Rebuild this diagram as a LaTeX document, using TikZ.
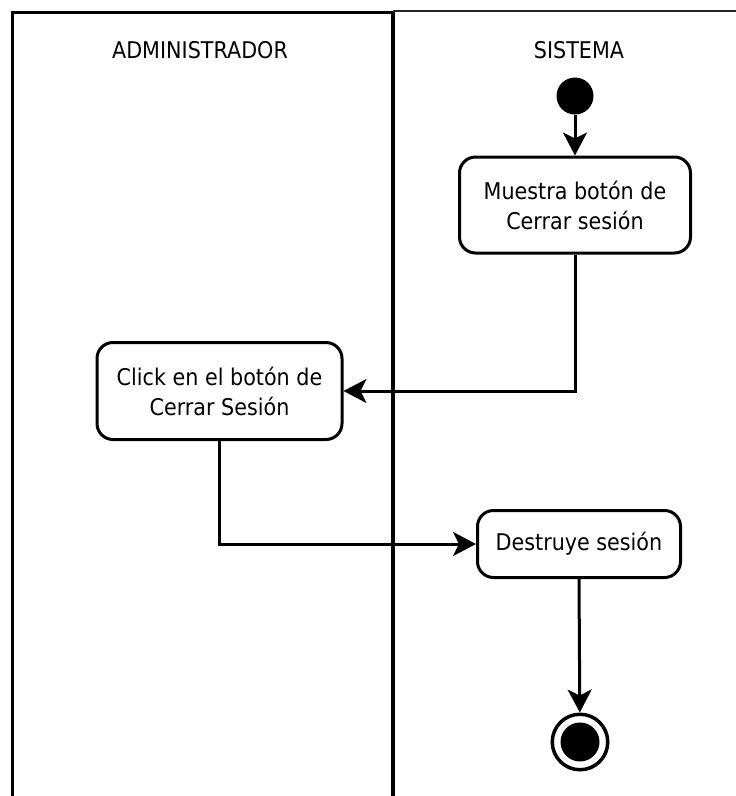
\documentclass[tikz,border=0pt]{standalone}
\usepackage{fontspec}
\setmainfont[FakeStretch=0.9]{DejaVu Sans}
\usetikzlibrary{arrows.meta}
\begin{document}
\begin{tikzpicture}[x=1pt,y=-1pt,
  lane/.style={line width=3.2pt,line cap=rect},
  action/.style={draw,line width=3pt,rounded corners=16pt,align=center,
    inner sep=0pt,font=\fontsize{23}{30}\selectfont},
  title/.style={anchor=base,inner sep=0pt,font=\fontsize{23}{30}\selectfont},
  flow/.style={line width=3pt,-{Stealth[length=23pt,width=24pt,inset=6pt]}}]
  \useasboundingbox[fill=white] (0,0) rectangle (736,796);

  % swimlanes
  \coordinate (tl) at (12.5,12.5);
  \coordinate (tm) at (393,12.5);
  \coordinate (tr) at (736,11);
  \coordinate (bl) at (12.5,796);
  \coordinate (bm) at (393,796);
  \draw[lane] (bl) -- (tl) -- (tm);
  \draw[lane] (tm) -- (bm);
  \draw[line width=2.8pt,black!85] (393,11) -- (tr);
  \node[title] (admin) at (200,58.5) {ADMINISTRADOR};
  \node[title] (sys) at (579,58.5) {SISTEMA};

  % initial and final states
  \node[circle,fill=black,minimum size=37pt,inner sep=0pt] (start) at (575,96) {};
  \node[circle,draw,line width=3.5pt,minimum size=55.5pt,inner sep=0pt] (end) at (580,742) {};
  \node[circle,fill=black,minimum size=39pt,inner sep=0pt] (endcore) at (580,742) {};

  % actions
  \node[action,minimum width=231pt,minimum height=96pt] (muestra) at (575,205)
    {Muestra botón de\\Cerrar sesión};
  \node[action,minimum width=245pt,minimum height=97pt] (click) at (219.5,391)
    {Click en el botón de\\Cerrar Sesión};
  \node[action,minimum width=203pt,minimum height=67pt] (destruye) at (579,544)
    {Destruye sesión};

  % control flow
  \draw[flow] (start) -- (muestra);
  \draw[flow] (muestra.south) |- (click.east);
  \draw[flow] (click.south) |- (destruye.west);
  \draw[flow] (destruye.south) -- (end);
\end{tikzpicture}
\end{document}
